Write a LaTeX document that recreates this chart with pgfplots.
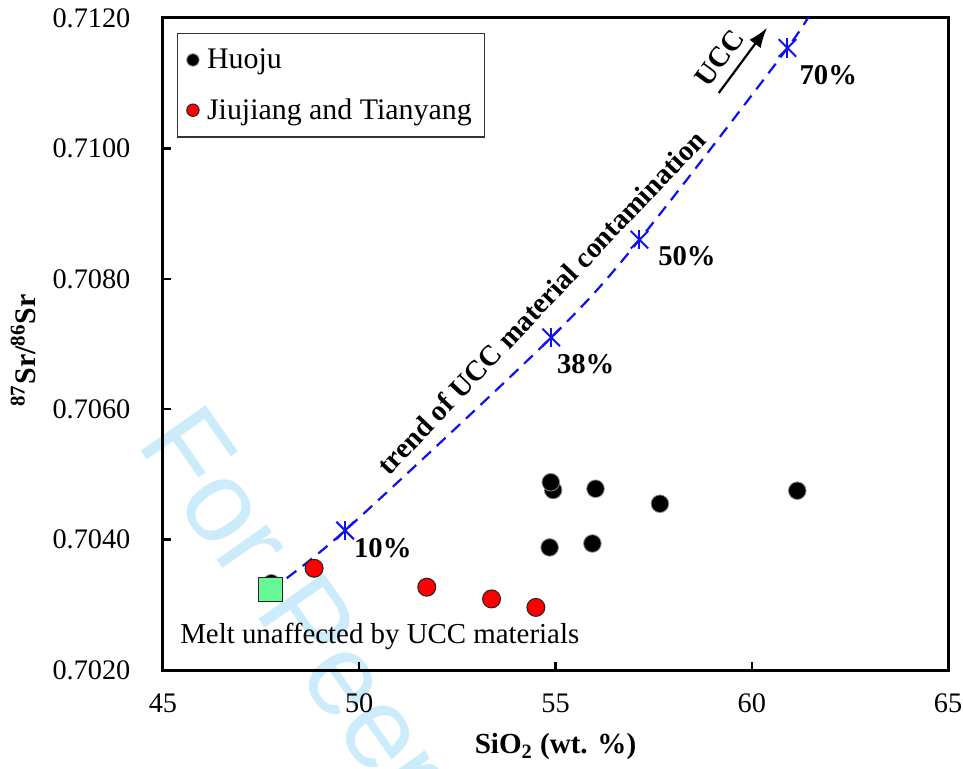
\documentclass[border=0pt]{standalone}
\usepackage{pgfplots}
\pgfplotsset{compat=1.18}
\usepackage{fontspec}
\setmainfont{Liberation Serif}
\newfontfamily\wmfont{Liberation Sans}
\usetikzlibrary{arrows.meta}

\definecolor{ucc}{RGB}{15,15,245}
\definecolor{meltgreen}{RGB}{102,250,150}
\definecolor{wmblue}{RGB}{204,236,252}

\newcommand{\tfont}{\fontsize{14.2}{17}\selectfont}
\newcommand{\bfont}{\fontsize{14.4}{17}\selectfont\bfseries}

\begin{document}
\begin{tikzpicture}
% watermark behind the plot
\node[overlay, rotate=-55, anchor=base west, inner sep=0pt, text=wmblue,
      font=\wmfont\fontsize{58}{62}\selectfont] at (-14bp,113.5bp) {For Peer Review};

\begin{axis}[
  scale only axis,
  width=392.5bp, height=326bp,
  at={(0,0)}, anchor=south west,
  xmin=45, xmax=65, ymin=0.7020, ymax=0.7120,
  xtick={45,50,55,60,65},
  ytick={0.7020,0.7040,0.7060,0.7080,0.7100,0.7120},
  scaled y ticks=false,
  yticklabel style={/pgf/number format/fixed, /pgf/number format/fixed zerofill,
                    /pgf/number format/precision=4, xshift=-12.8bp},
  /pgf/number format/assume math mode=true,
  tick label style={font=\tfont},
  xticklabel style={yshift=-8.3bp},
  tick align=inside,
  xtick pos=left, ytick pos=left,
  major tick length=4bp,
  tick style={line width=1.2bp, black},
  axis line style={line width=1.5bp},
  clip mode=individual,
  legend style={at={(0.018,0.977)}, anchor=north west, draw=black!80,
                line width=0.6bp, font=\fontsize{15}{18}\selectfont,
                inner xsep=4.5bp, inner ysep=5.5bp, row sep=9.5bp,
                cells={anchor=west},
                /tikz/every odd column/.append style={column sep=2bp}},
  legend image code/.code={\draw[#1, mark size=3.1bp] plot coordinates {(0bp,0bp)};},
]

% mixing trend towards upper continental crust
\addplot[ucc, dash pattern=on 6bp off 4bp, line width=1.1bp, smooth, forget plot]
  coordinates {(47.74,0.70323) (49.64,0.70414) (54.89,0.70710) (57.14,0.70860) (60.91,0.71154) (61.70,0.71230)};

\addplot[only marks, mark=*, mark size=4.4bp,
         mark options={fill=black, draw=black!45, line width=0.4bp}]
  coordinates {(47.76,0.70333) (54.94,0.70476) (54.88,0.70488) (56.02,0.70478) (57.66,0.70455)
               (61.16,0.70475) (54.85,0.70388) (55.94,0.70394)};
\addlegendentry{Huoju}

\addplot[only marks, mark=*, mark size=4.5bp,
         mark options={fill=red, draw=black!85, line width=0.5bp}]
  coordinates {(48.85,0.70356) (51.72,0.70327) (53.37,0.70309) (54.50,0.70296)};
\addlegendentry{Jiujiang and Tianyang}

% unaffected melt
\addplot[only marks, mark=square*, mark size=6bp, forget plot,
         mark options={fill=meltgreen, draw=black!85, line width=0.5bp}]
  coordinates {(47.74,0.70323)};

% contamination steps
\addplot[only marks, mark=x, mark size=6.2bp, ucc, line width=1bp, forget plot]
  coordinates {(49.64,0.70414) (54.89,0.70710) (57.14,0.70860) (60.91,0.71154)};
\addplot[only marks, mark=|, mark size=4.8bp, ucc, line width=1bp, forget plot]
  coordinates {(49.64,0.70414) (54.89,0.70710) (57.14,0.70860) (60.91,0.71154)};

\node[font=\bfont] at (axis cs:50.60,0.70387) {10\%};
\node[font=\bfont] at (axis cs:55.77,0.70669) {38\%};
\node[font=\bfont] at (axis cs:58.35,0.70834) {50\%};
\node[font=\bfont] at (axis cs:61.95,0.71113) {70\%};

\node[font=\bfont, rotate=46.5] at (axis cs:54.63,0.70764) {trend of UCC material contamination};
\node[font=\bfont, rotate=53.5] at (axis cs:59.18,0.71139) {UCC};
\draw[-{Latex[length=10bp,width=7bp]}, line width=1.1bp] (axis cs:59.16,0.71085) -- (axis cs:60.39,0.71185);

\node[anchor=west, font=\fontsize{14.5}{17}\selectfont, inner sep=0pt] at (axis cs:45.43,0.70251) {Melt unaffected by UCC materials};

\node[font=\fontsize{14.6}{17}\selectfont\bfseries] at ([yshift=-38.5bp]rel axis cs:0.5,0) {SiO\textsubscript{2} (wt. \%)};
\node[font=\fontsize{15}{17}\selectfont\bfseries, rotate=90] at ([xshift=-70bp]rel axis cs:0,0.49) {\textsuperscript{87}Sr/\textsuperscript{86}Sr};
\end{axis}

\pgfresetboundingbox
\path (-81.5bp,-49.5bp) rectangle (400bp,335bp);
\end{tikzpicture}
\end{document}
